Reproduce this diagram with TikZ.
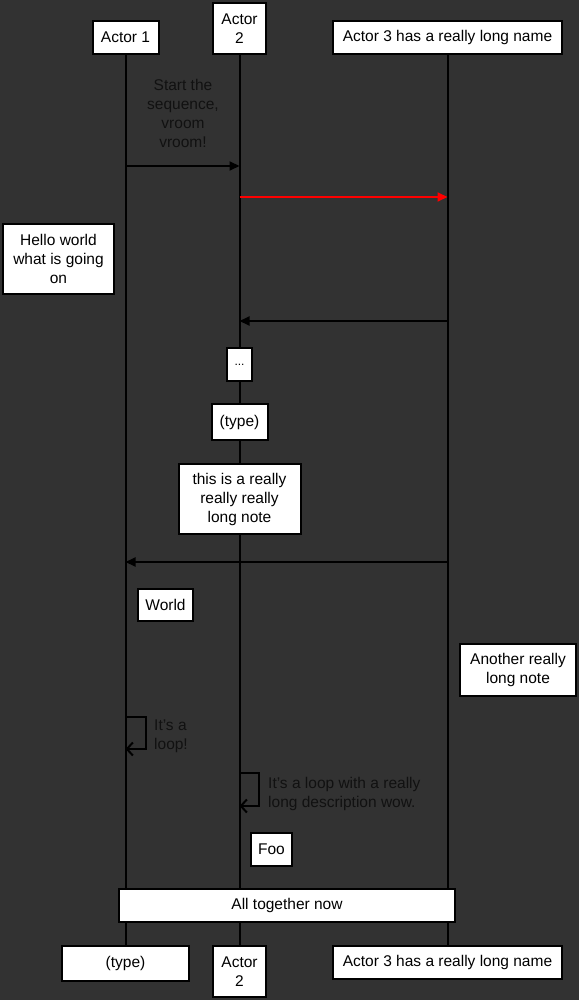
\documentclass[tikz,border=0pt]{standalone}
\usepackage{fontspec}
\setmainfont{Liberation Sans}
\usetikzlibrary{arrows.meta}
\pgfdeclarelayer{bg}
\pgfsetlayers{bg,main}
\definecolor{bgc}{RGB}{50,50,50}
\definecolor{ink}{RGB}{17,17,17}
\definecolor{msgred}{RGB}{255,0,0}
\tikzset{
 box/.style={draw=black, line width=2pt, fill=white, inner sep=0pt, align=center,
   font=\fontsize{15.5}{19}\selectfont, text=black},
 life/.style={draw=black, line width=2pt},
 msg/.style={draw=black, line width=2pt, -{Triangle[length=10pt,width=9pt]}},
 loopst/.style={draw=black, line width=2pt, -{Straight Barb[length=6pt,width=13pt,line width=2pt]}},
 lbl/.style={text=ink, font=\fontsize{15.5}{19}\selectfont, inner sep=0pt},
}
\begin{document}
\begin{tikzpicture}[x=1pt,y=-1pt]
\useasboundingbox (0,0) rectangle (579,1000);
% actors
\node[box, minimum width=66pt, minimum height=33pt] (a1t) at (125.5,37.5) {Actor 1};
\node[box, minimum width=53pt, minimum height=51pt] (a2t) at (239.5,28.5) {Actor\\2};
\node[box, minimum width=229pt, minimum height=33pt] (a3t) at (447.5,37.5) {Actor 3 has a really long name};
\node[box, minimum width=127pt, minimum height=35pt] (a1b) at (125.5,963.5) {(type)};
\node[box, minimum width=53pt, minimum height=51pt] (a2b) at (239.5,971.5) {Actor\\2};
\node[box, minimum width=229pt, minimum height=33pt] (a3b) at (447.5,962.5) {Actor 3 has a really long name};
% notes
\node[box, minimum width=111pt, minimum height=70pt] (hello) at (58.5,259) {Hello world\\what is going\\on};
\node[box, minimum width=25pt, minimum height=33pt] (dots) at (239.5,364.5) {\fontsize{12}{14}\selectfont ...};
\node[box, minimum width=56pt, minimum height=36pt] (typ) at (239.5,422) {(type)};
\node[box, minimum width=122pt, minimum height=70pt] (longn) at (239.5,499) {this is a really\\really really\\long note};
\node[box, minimum width=55pt, minimum height=32pt] (world) at (165.5,605) {World};
\node[box, minimum width=116pt, minimum height=52pt] (another) at (518,670) {Another really\\long note};
\node[box, minimum width=41pt, minimum height=33pt] (foo) at (271.5,849.5) {Foo};
\node[box, minimum width=336pt, minimum height=33pt] (all) at (287,905.5) {All together now};
% lifelines and background
\begin{pgfonlayer}{bg}
\fill[bgc] (0,0) rectangle (579,1000);
\draw[life] (a1t.south) -- (a1b.north);
\draw[life] (a2t.south) -- (a2b.north);
\draw[life] (a3t.south) -- (a3b.north);
\end{pgfonlayer}
% messages
\coordinate (m1s) at (125.5,166); \coordinate (m1e) at (239.5,166);
\coordinate (m2s) at (239.5,197); \coordinate (m2e) at (447.5,197);
\coordinate (m3s) at (447.5,321); \coordinate (m3e) at (239.5,321);
\coordinate (m4s) at (447.5,562); \coordinate (m4e) at (125.5,562);
\node[lbl, align=center] (m1l) at (183,113.5) {Start the\\sequence,\\vroom\\vroom!};
\draw[msg] (m1s) -- (m1e);
\draw[msg, draw=msgred, color=msgred] (m2s) -- (m2e);
\draw[msg] (m3s) -- (m3e);
\draw[msg] (m4s) -- (m4e);
% loops
\coordinate (l1s) at (125.5,717); \coordinate (l1e) at (125.5,749);
\coordinate (l2s) at (239.5,773); \coordinate (l2e) at (239.5,806);
\draw[loopst] (l1s) -- ++(20,0) |- (l1e);
\draw[loopst] (l2s) -- ++(19,0) |- (l2e);
\node[lbl, align=left, anchor=west] (l1l) at (154,736.5) {It's a\\loop!};
\node[lbl, align=left, anchor=west] (l2l) at (268,793.5) {It's a loop with a really\\long description wow.};
\end{tikzpicture}
\end{document}
